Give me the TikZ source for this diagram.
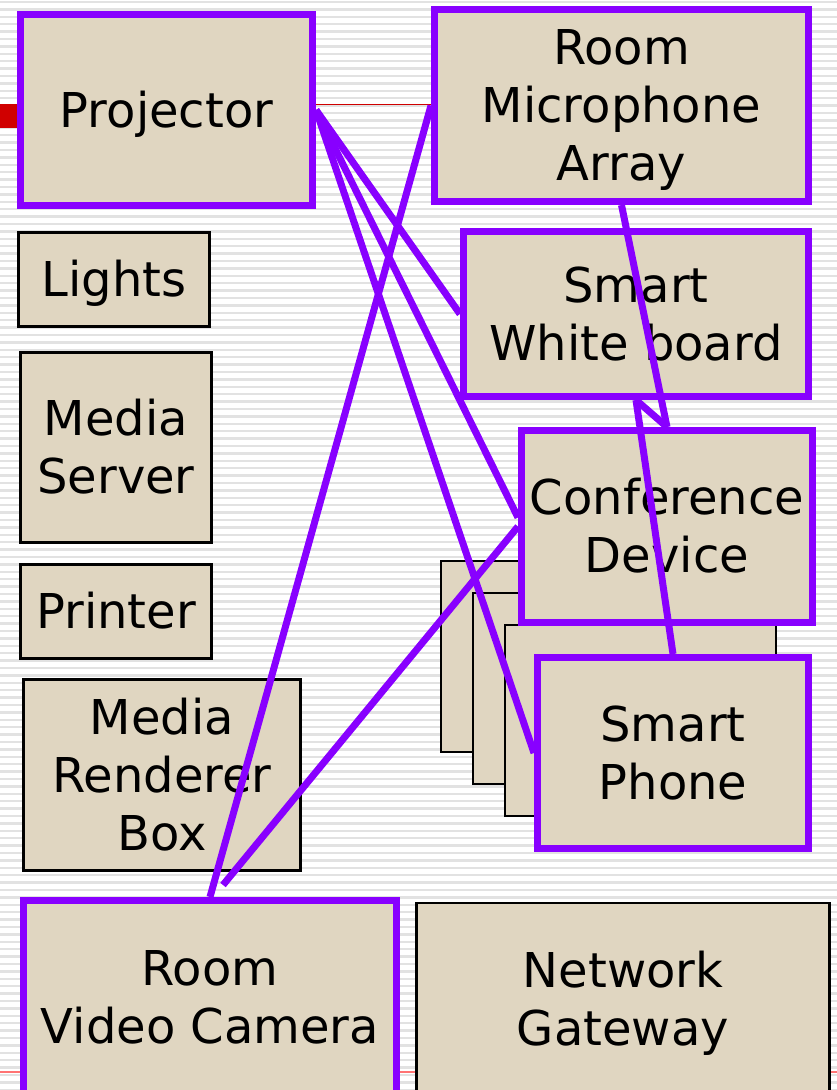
\documentclass[tikz,border=0pt]{standalone}
\usepackage{fontspec}
\setmainfont{DejaVu Sans}
\usetikzlibrary{positioning}
\definecolor{burlap}{RGB}{224,214,193}
\definecolor{linkpurple}{RGB}{136,0,255}
\definecolor{rulegrey}{RGB}{226,226,226}
\definecolor{titlered}{RGB}{208,0,0}
\newcommand{\ds}{\rule[-12pt]{0pt}{58pt}}

\begin{document}
\begin{tikzpicture}[x=1pt, y=-1pt,
    dev/.style={draw=black, line width=2.2pt, fill=burlap, align=center, inner sep=0pt, font=\fontsize{48}{58}\selectfont},
    hot/.style={dev, draw=linkpurple, line width=7pt},
    link/.style={draw=linkpurple, line width=7pt},
    rule/.style={draw=rulegrey, line width=2.4pt}
  ]
  \useasboundingbox[fill=white] (0,0) rectangle (837,1090);
  \foreach \y in {2,9.4,...,1090} \draw[rule] (0,\y) -- (837,\y);
  \draw[titlered, line width=1.6pt] (0,104.5) -- (431,104.5);
  \fill[titlered] (0,104) rectangle (20,128);
  \draw[red!55, line width=1.5pt] (0,1072) -- (837,1072);

  \node[hot, minimum width=292pt, minimum height=191pt] (proj) at (166.5,110) {\ds Projector};
  \node[hot, minimum width=374pt, minimum height=192pt] (mic) at (621.5,105.5) {\ds Room\\\ds Microphone\\\ds Array};
  \node[hot, minimum width=345pt, minimum height=165pt] (wb) at (636,314) {\ds Smart\\\ds White board};
  \node[dev, minimum width=191pt, minimum height=94pt] (lights) at (114,279.5) {\ds Lights};
  \node[dev, minimum width=191pt, minimum height=190pt] (server) at (116,447.5) {\ds Media\\\ds Server};
  \node[dev, minimum width=191pt, minimum height=94pt] (printer) at (116,611.5) {\ds Printer};
  \node[dev, minimum width=277pt, minimum height=191pt] (renderer) at (162,775) {\ds Media\\\ds Renderer\\\ds Box};
  \foreach \k in {0,1,2}
    \node[dev, minimum width=271pt, minimum height=191pt] (stack\k) at (576.5+32*\k,656.5+32*\k) {};
  \node[hot, minimum width=291pt, minimum height=192pt] (conf) at (667,526.5) {\ds Conference\\\ds Device};
  \node[hot, minimum width=271pt, minimum height=191pt] (phone) at (673,753) {\ds Smart\\\ds Phone};
  \node[hot, minimum width=373pt, minimum height=193pt] (cam) at (210,997) {\ds Room\\\ds Video Camera};
  \node[dev, minimum width=413pt, minimum height=193pt] (gateway) at (623,999.5) {\ds Network\\\ds Gateway};

  \draw[link] (proj.east) -- (wb.west);
  \draw[link] (proj.east) -- ([yshift=9pt]conf.west);
  \draw[link] (proj.east) -- (phone.west);
  \draw[link] (mic.west) -- (cam.north);
  \draw[link] (mic.south) -- (conf.north);
  \draw[link] (wb.south) -- (conf.north);
  \draw[link] (wb.south) -- (phone.north);
  \draw[link] (conf.west) -- ([xshift=13pt,yshift=12pt]cam.north);
\end{tikzpicture}
\end{document}
